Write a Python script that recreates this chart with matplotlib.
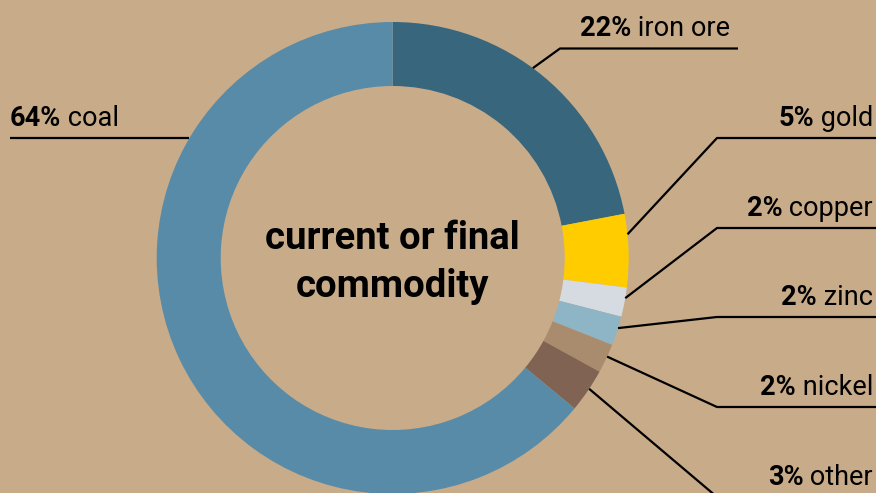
#! /usr/bin/env python
"""Donut chart: current or final commodity."""


### import ########################################################################################


import numpy as np

import matplotlib
matplotlib.use('Agg')
import matplotlib.pyplot as plt


### define ########################################################################################


commodities = ['iron ore', 'gold', 'copper', 'zinc', 'nickel', 'other', 'coal']
shares = [22, 5, 2, 2, 2, 3, 64]
pct_labels = ['22%', '5%', '2%', '2%', '2%', '3%', '64%']
colors = ['#37667d', '#ffcc00', '#d6dbe1', '#8db5c6', '#a98b6d', '#806352', '#588ba8']

bg = '#c8ab89'
W, H = 876, 493

plt.rcParams['font.family'] = ['Roboto', 'DejaVu Sans']

# label layout in pixel coords (y measured from top): line y, elbow x, line end x, side
layout = {
    'iron ore': dict(y=48.5, elbow=560, end=738, side='right', frac=0.46),
    'gold': dict(y=138, elbow=717, end=876, side='right', frac=0.28),
    'copper': dict(y=228, elbow=717, end=876, side='right', frac=0.36),
    'zinc': dict(y=317, elbow=717, end=876, side='right', frac=0.4),
    'nickel': dict(y=407, elbow=717, end=876, side='right', frac=0.43),
    'other': dict(y=497, elbow=717, end=876, side='right', frac=0.45),
    'coal': dict(y=138, elbow=None, end=10, side='left', frac=None),
}


### figure ########################################################################################


fig = plt.figure(figsize=(W / 100, H / 100), dpi=100, facecolor=bg)
ax = fig.add_axes([0, 0, 1, 1])
ax.set_facecolor(bg)

cx, cy = 392.7, H - 258
r_out, r_in = 236, 172

wedges, _ = ax.pie(shares, colors=colors, startangle=90, counterclock=False,
                   center=(cx, cy), radius=r_out,
                   wedgeprops=dict(width=r_out - r_in, linewidth=0))

ax.set_xlim(0, W)
ax.set_ylim(0, H)
ax.set_aspect('equal')
ax.axis('off')

fig.canvas.draw()
renderer = fig.canvas.get_renderer()

fs = 19.5
for name, pct, wedge in zip(commodities, pct_labels, wedges):
    lay = layout[name]
    ly = H - lay['y']
    if lay['side'] == 'right':
        t1, t2 = wedge.theta1, wedge.theta2  # clockwise: theta2 is start
        ang = np.deg2rad(t2 - lay['frac'] * (t2 - t1))
        ax_, ay_ = cx + r_out * np.cos(ang), cy + r_out * np.sin(ang)
        ax.plot([ax_, lay['elbow'], lay['end']], [ay_, ly, ly], color='k', lw=1.6,
                solid_capstyle='butt', clip_on=False)
        tx = lay['end'] - (3 if lay['end'] >= W else 8)
        t = ax.text(tx, ly + 12, ' ' + name, ha='right', va='baseline', fontsize=fs)
        bb = t.get_window_extent(renderer)
        ax.text(bb.x0, ly + 12, pct, ha='right', va='baseline', fontsize=fs, fontweight='bold')
    else:
        # horizontal line from left edge to the ring
        xr = cx - np.sqrt(r_out ** 2 - (ly - cy) ** 2)
        ax.plot([lay['end'], xr], [ly, ly], color='k', lw=1.6, solid_capstyle='butt')
        t = ax.text(lay['end'], ly + 12, pct, ha='left', va='baseline', fontsize=fs,
                    fontweight='bold')
        bb = t.get_window_extent(renderer)
        ax.text(bb.x1, ly + 12, ' ' + name, ha='left', va='baseline', fontsize=fs)

# centre title
ax.text(cx, H - 249, 'current or final', ha='center', va='baseline', fontsize=27.5,
        fontweight='bold')
ax.text(cx, H - 297, 'commodity', ha='center', va='baseline', fontsize=27.5,
        fontweight='bold')

plt.savefig('out.png', dpi=100, facecolor=bg)
plt.close(fig)
